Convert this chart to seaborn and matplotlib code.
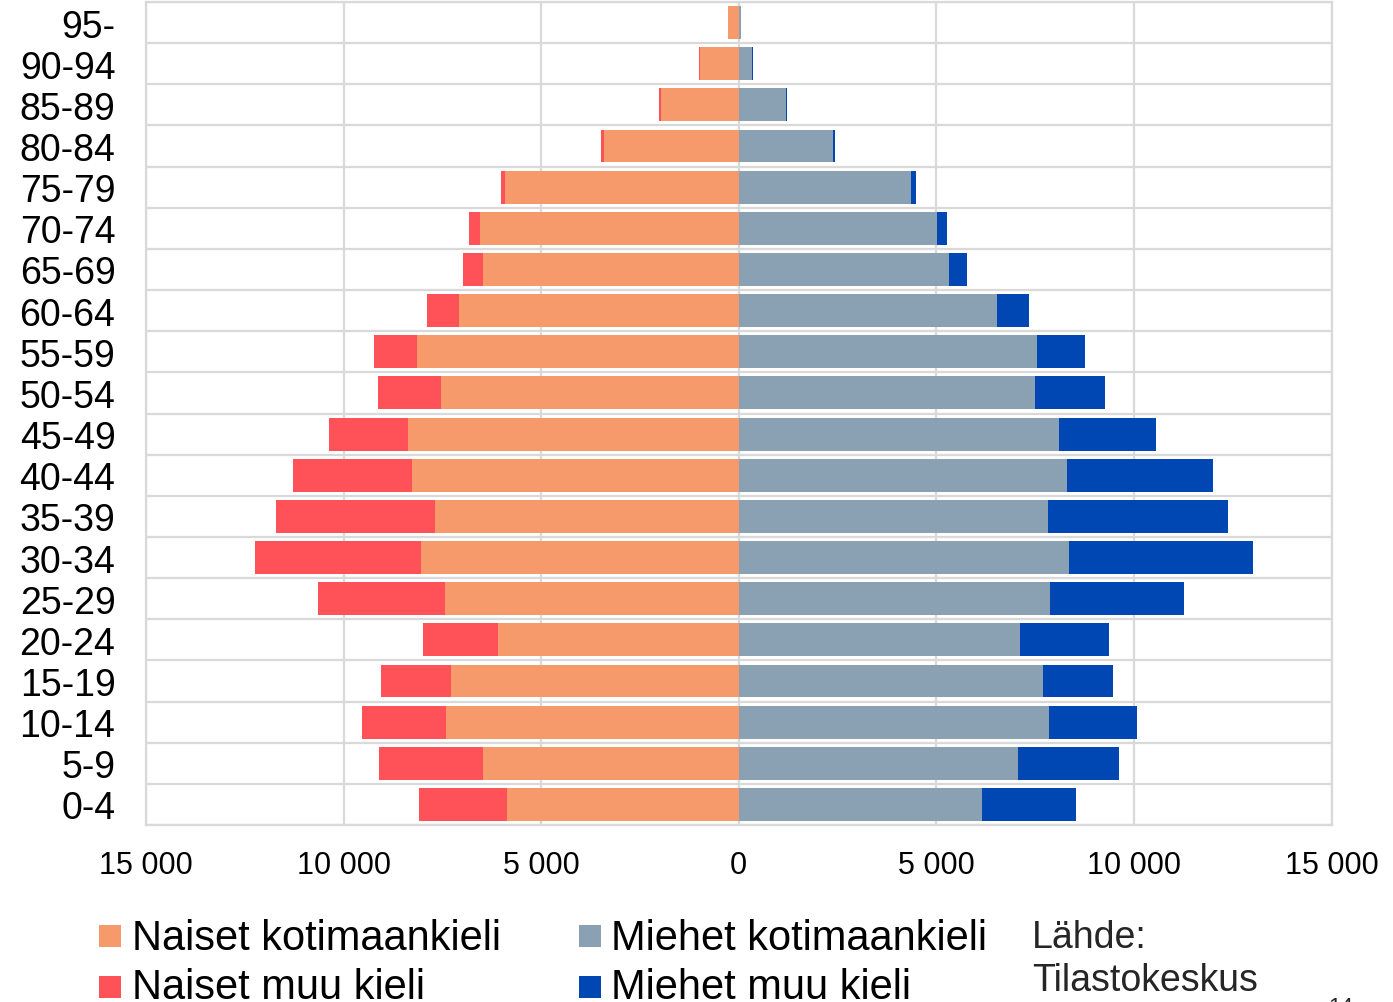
import matplotlib
matplotlib.use("Agg")
import matplotlib.pyplot as plt
import seaborn as sns
import pandas as pd
from matplotlib.patches import Rectangle
from matplotlib.ticker import FuncFormatter, FixedLocator

# ---- data ----
age_groups = ["95-", "90-94", "85-89", "80-84", "75-79", "70-74", "65-69",
              "60-64", "55-59", "50-54", "45-49", "40-44", "35-39", "30-34",
              "25-29", "20-24", "15-19", "10-14", "5-9", "0-4"]
women_domestic = [260, 990, 1966, 3408, 5913, 6546, 6470, 7077, 8140, 7533,
                  8368, 8267, 7685, 8039, 7432, 6091, 7280, 7406, 6470, 5863]
women_other = [10, 15, 50, 76, 102, 278, 506, 810, 1088, 1594,
               1999, 3011, 4023, 4200, 3213, 1897, 1771, 2126, 2632, 2221]
men_domestic = [45, 340, 1190, 2385, 4364, 5005, 5330, 6524, 7548, 7498,
                8105, 8307, 7826, 8358, 7877, 7118, 7700, 7852, 7068, 6157]
men_other = [11, 20, 35, 45, 134, 271, 452, 823, 1215, 1771,
             2454, 3695, 4555, 4655, 3391, 2252, 1771, 2226, 2555, 2378]
series_labels = ["Naiset kotimaankieli", "Naiset muu kieli",
                 "Miehet kotimaankieli", "Miehet muu kieli"]
colors = ["#F79A6B", "#FF5258", "#8AA0B3", "#0047B3"]
x_ticks = [-15000, -10000, -5000, 0, 5000, 10000, 15000]

df = pd.DataFrame({
    "age": age_groups,
    "w_dom": [-v for v in women_domestic],
    "w_tot": [-(a + b) for a, b in zip(women_domestic, women_other)],
    "m_dom": men_domestic,
    "m_tot": [a + b for a, b in zip(men_domestic, men_other)],
})

sns.set_theme(style="white")
plt.rcParams["font.family"] = ["Liberation Sans", "DejaVu Sans"]

W, H = 1393, 1003
fig = plt.figure(figsize=(W / 100, H / 100), dpi=100)
ax = fig.add_axes([146 / W, 1 - 826 / H, (1331.5 - 146) / W, (826 - 3) / H])

common = dict(y="age", order=age_groups, orient="h", errorbar=None,
              saturation=1, linewidth=0, width=0.8, ax=ax, zorder=3)
sns.barplot(data=df, x="w_tot", color=colors[1], **common)
sns.barplot(data=df, x="w_dom", color=colors[0], **common)
sns.barplot(data=df, x="m_tot", color=colors[3], **common)
sns.barplot(data=df, x="m_dom", color=colors[2], **common)

ax.set_xlim(-15000, 15000)
ax.set_ylim(len(age_groups) - 0.5, -0.5)
ax.xaxis.set_major_locator(FixedLocator(x_ticks))
ax.xaxis.set_major_formatter(FuncFormatter(
    lambda v, p: f"{abs(int(v)):,}".replace(",", " ")))
ax.set_yticks(range(len(age_groups)))
ax.set_yticklabels(age_groups)
ax.yaxis.set_minor_locator(FixedLocator([i + 0.5 for i in range(-1, len(age_groups))]))
ax.set_xlabel("")
ax.set_ylabel("")

grid_c = "#D9D9D9"
ax.grid(True, axis="x", which="major", color=grid_c, linewidth=1.6, zorder=0)
ax.grid(True, axis="y", which="minor", color=grid_c, linewidth=1.6, zorder=0)
ax.grid(False, axis="y", which="major")
ax.set_axisbelow(True)
for s in ax.spines.values():
    s.set_visible(True)
    s.set_color(grid_c)
    s.set_linewidth(1.6)

ax.tick_params(axis="y", which="major", length=0, pad=22, labelsize=27,
               labelcolor="black")
ax.tick_params(axis="y", which="minor", length=0)
ax.tick_params(axis="x", length=0, pad=18, labelsize=22, labelcolor="black")

# ---- legend (manual placement) ----
def fy(py):
    return 1 - py / H

leg_pos = [(99, 926, 132, 950), (99, 977, 132, 999),
           (579, 926, 611, 950), (579, 977, 611, 999)]
for i, (mx, my, tx, ty) in enumerate(leg_pos):
    fig.add_artist(Rectangle((mx / W, fy(my + 22)), 22 / W, 22 / H,
                             transform=fig.transFigure, facecolor=colors[i],
                             edgecolor="none"))
    fig.text(tx / W, fy(ty), series_labels[i], fontsize=30, color="black",
             ha="left", va="baseline")

fig.text(1032 / W, fy(948), "Lähde:", fontsize=27, ha="left", va="baseline")
fig.text(1032 / W, fy(991), "Tilastokeskus", fontsize=27, ha="left", va="baseline")
fig.text(1328 / W, fy(1013), "14", fontsize=16, ha="left", va="baseline")

fig.savefig("out.png", dpi=100)
